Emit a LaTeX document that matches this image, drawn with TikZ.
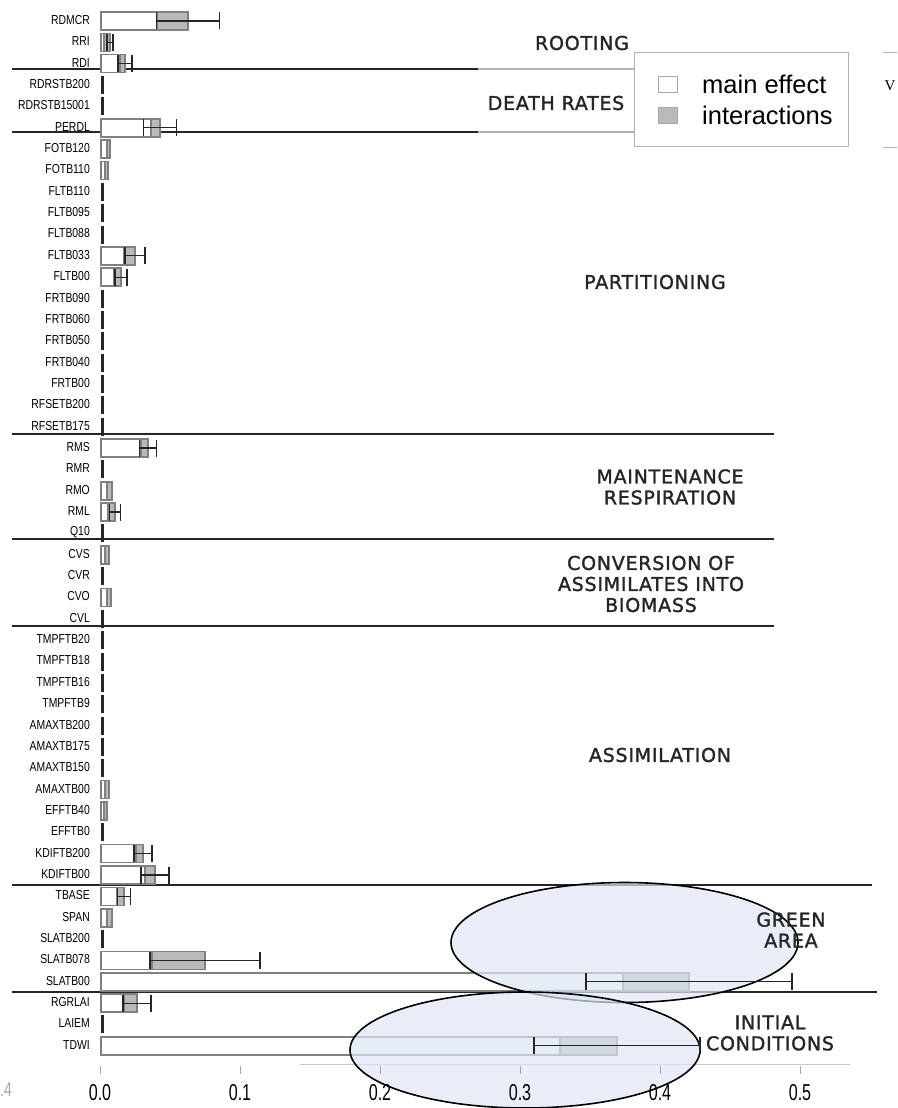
\documentclass[tikz,border=0pt]{standalone}
\usepackage{fontspec}
\setmainfont{Liberation Sans}
\newfontfamily\groupfont[LetterSpace=4.0, FakeBold=1.6]{DejaVu Sans}
\newfontfamily\serifpart{Liberation Serif}
\usetikzlibrary{positioning}

\newcommand{\narrowlabel}[2][0.8]{\scalebox{#1}[1]{#2}}

% row / main effect / total / half error
\newcommand{\bardata}{0/.0400/.0621/.0225, 1/.0021/.0064/.0021, 2/.0136/.0171/.0050,
    5/.0357/.0421/.0118, 6/.0043/.0064/0, 7/.0029/.0050/0, 11/.0164/.0243/.0071,
    12/.0093/.0143/.0043, 20/.0286/.0336/.0060, 22/.0043/.0079/0, 23/.0050/.0100/.0040,
    25/.0029/.0057/0, 27/.0043/.0071/0, 36/.0029/.0057/0, 37/.0021/.0043/0,
    39/.0250/.0300/.0064, 40/.0314/.0386/.0100, 41/.0114/.0164/.0045, 42/.0043/.0079/0,
    44/.0364/.0743/.0393, 45/.3729/.4200/.0736, 46/.0164/.0257/.0100, 48/.3279/.3686/.0593}

\tikzset{
    rowlabel/.style = {anchor = east, inner sep = 0pt, font = \fontsize{13}{13}\selectfont},
    ticklabel/.style = {inner sep = 0pt, font = \fontsize{23}{23}\selectfont},
    grouplabel/.style = {align = center, inner sep = 0pt, text = black!85, font = \groupfont\fontsize{19}{21}\selectfont},
    sepline/.style = {line width = 1.2pt, draw = black!85},
    mainbar/.style = {draw = gray, line width = 1.6pt, fill = white},
    interbar/.style = {draw = gray, line width = 1.6pt, fill = gray!55},
    stub/.style = {fill = black!85},
    errbar/.style = {draw = black!85, line width = 1.2pt},
    zoomring/.style = {draw = black, line width = 1.6pt, fill = {rgb,255:red,222;green,230;blue,244}, fill opacity = .7},
    legendkey/.style = {draw = gray!70, line width = 1pt, minimum width = 19pt, minimum height = 16pt, inner sep = 0pt},
    legendtext/.style = {anchor = west, inner sep = 0pt, font = \fontsize{25.5}{25.5}\selectfont},
}

\begin{document}
\begin{tikzpicture}[x = 1pt, y = -1pt]
    \useasboundingbox (0,0) rectangle (897,1108);

    % parameter names
    \foreach \lab [count = \i from 0] in {RDMCR, RRI, RDI, RDRSTB200, RDRSTB15001, PERDL,
        FOTB120, FOTB110, FLTB110, FLTB095, FLTB088, FLTB033, FLTB00, FRTB090, FRTB060,
        FRTB050, FRTB040, FRTB00, RFSETB200, RFSETB175, RMS, RMR, RMO, RML, Q10,
        CVS, CVR, CVO, CVL, TMPFTB20, TMPFTB18, TMPFTB16, TMPFTB9, AMAXTB200, AMAXTB175,
        AMAXTB150, AMAXTB00, EFFTB40, EFFTB0, KDIFTB200, KDIFTB00, TBASE, SPAN,
        SLATB200, SLATB078, SLATB00, RGRLAI, LAIEM, TDWI}
        \node[rowlabel] (row\i) at (90, {20 + 21.35*\i}) {\narrowlabel{\lab}};

    % group separators
    \foreach \ly/\lx in {434/774, 539/774, 626/774, 885/872, 992/877}
        \draw[sepline] (12,\ly) -- (\lx,\ly);
    \foreach \ly in {69, 132} {
        \draw[sepline] (12,\ly) -- (478,\ly);
        \draw[line width = 1.2pt, gray!60] (478,\ly) -- (634,\ly);
    }
    \draw[line width = .8pt, gray!45] (300,1064) -- (850,1064);

    % near-zero indices
    \foreach \i in {3,4,8,9,10,13,14,15,16,17,18,19,21,24,26,28,29,30,31,32,33,34,35,38,43,47}
        \fill[stub] (101, {21 + 21.35*\i - 9}) rectangle (104, {21 + 21.35*\i + 9});

    % main effect + interactions
    \foreach \i/\m/\t/\e in \bardata {
        \pgfmathsetmacro\yc{21 + 21.35*\i}
        \pgfmathsetmacro\xm{101 + 1400*\m}
        \pgfmathsetmacro\xt{101 + 1400*\t}
        \draw[mainbar] (101,\yc-9) rectangle (\xm,\yc+9);
        \draw[interbar] (\xm,\yc-9) rectangle (\xt,\yc+9);
    }

    % highlighted rows
    \draw[zoomring] (624.5,942.5) ellipse [x radius = 173.5, y radius = 60];
    \draw[zoomring] (525,1050) ellipse [x radius = 175, y radius = 58];

    % error bar on the total
    \foreach \i/\m/\t/\e in \bardata {
        \ifdim\e pt>0pt
            \pgfmathsetmacro\yc{21 + 21.35*\i}
            \pgfmathsetmacro\xl{101 + 1400*(\t-\e)}
            \pgfmathsetmacro\xr{101 + 1400*(\t+\e)}
            \draw[errbar] (\xl,\yc-8.5) -- (\xl,\yc+8.5) (\xl,\yc) -- (\xr,\yc) (\xr,\yc-8.5) -- (\xr,\yc+8.5);
        \fi
    }

    % axis
    \foreach \k in {0,...,5} {
        \draw[gray!70, line width = 1pt] (100+140*\k,1066) -- (100+140*\k,1074);
        \node[ticklabel] (tick\k) at (100+140*\k,1093) {\narrowlabel[0.7]{0.\k}};
    }

    % groups
    \node[grouplabel] (rooting) at (582,43) {ROOTING};
    \node[grouplabel] (death) at (556,103) {DEATH RATES};
    \node[grouplabel] (partition) at (655,282) {PARTITIONING};
    \node[grouplabel] (maint) at (670,487) {MAINTENANCE\\RESPIRATION};
    \node[grouplabel] (conv) at (651,584) {CONVERSION OF\\ASSIMILATES INTO\\BIOMASS};
    \node[grouplabel] (assim) at (660,755) {ASSIMILATION};
    \node[grouplabel] (green) at (791,930) {GREEN\\AREA};
    \node[grouplabel] (initial) at (770,1033) {INITIAL\\CONDITIONS};

    % legend
    \draw[draw = gray!60, line width = 1pt, fill = white] (634,53) rectangle (848,146);
    \node[legendkey, fill = white] (keymain) at (668,84.5) {};
    \node[legendkey, fill = gray!55] (keyinter) at (668,115.5) {};
    \node[legendtext, right = 24pt of keymain] (txtmain) {main effect};
    \node[legendtext, right = 24pt of keyinter] (txtinter) {interactions};

    % cut-off pieces at the edges
    \draw[gray!60, line width = 1pt] (883,53) -- (897,53) (883,147) -- (897,147);
    \node[inner sep = 0pt, font = \serifpart\fontsize{15}{15}\selectfont] (cutv) at (890,86) {V};
    \node[anchor = east, inner sep = 0pt, text = gray!70, font = \fontsize{20}{20}\selectfont] (cutfour) at (12,1090) {\narrowlabel[0.7]{.4}};
\end{tikzpicture}
\end{document}
